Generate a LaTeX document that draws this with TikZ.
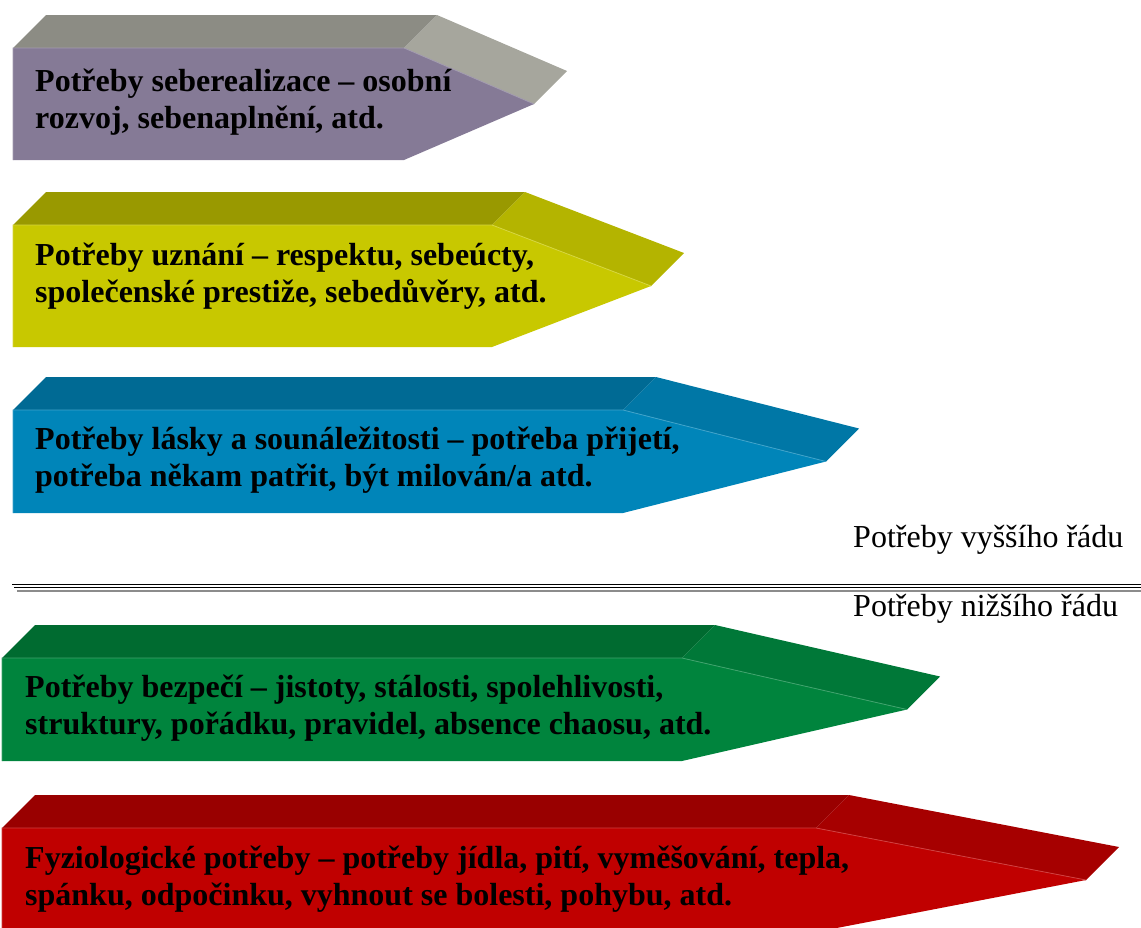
\documentclass[tikz,border=0pt]{standalone}
\usepackage{fontspec}
\setmainfont{Liberation Serif}
\usetikzlibrary{calc}

\definecolor{purpleF}{RGB}{133,122,150}
\definecolor{purpleT}{RGB}{140,140,132}
\definecolor{purpleS}{RGB}{166,166,157}
\definecolor{yellowF}{RGB}{200,200,0}
\definecolor{yellowT}{RGB}{153,153,0}
\definecolor{yellowS}{RGB}{180,180,0}
\definecolor{blueF}{RGB}{0,133,185}
\definecolor{blueT}{RGB}{0,106,148}
\definecolor{blueS}{RGB}{0,119,166}
\definecolor{greenF}{RGB}{0,132,61}
\definecolor{greenT}{RGB}{0,107,48}
\definecolor{greenS}{RGB}{0,120,56}
\definecolor{redF}{RGB}{192,0,0}
\definecolor{redT}{RGB}{153,0,0}
\definecolor{redS}{RGB}{166,0,0}

% #1 left x, #2 top y, #3 bottom y, #4 right x of the front face,
% #5 tip x, #6 colour prefix (front/top/side shades)
\newcommand\needbar[6]{%
  \pgfmathsetmacro\barmid{(#2+#3)/2}
  \fill[#6T] (#1,#2) -- (#1+33,#2-33) -- (#4+33,#2-33) -- (#4,#2) -- cycle;
  \fill[#6S] (#4,#2) -- (#4+33,#2-33) -- (#5+33,\barmid-33) -- (#5,\barmid) -- cycle;
  \fill[#6F] (#1,#2) -- (#4,#2) -- (#5,\barmid) -- (#4,#3) -- (#1,#3) -- cycle;
  \draw[#6F!75!white, line width=0.8pt] (#1,#3) -- (#1,#2) -- (#4,#2) -- (#5,\barmid);
}

\tikzset{
  needtext/.style={anchor=west, align=left, inner sep=0pt,
    font=\fontsize{32}{37}\selectfont\bfseries},
  ordertext/.style={anchor=base west, inner sep=0pt,
    font=\fontsize{32}{37}\selectfont},
}

\begin{document}
\begin{tikzpicture}[x=1pt, y=-1pt]
  \useasboundingbox (0,0) rectangle (1141,927);

  \needbar{13}{48}{160}{404}{534}{purple}
  \needbar{13}{225}{347}{492}{651}{yellow}
  \needbar{13}{410}{513}{623}{826}{blue}
  \needbar{2}{658}{761}{682}{907}{green}
  \needbar{2}{828}{932}{816}{1086}{red}

  \node[needtext] (self) at (35,102)
    {Potřeby seberealizace – osobní\\rozvoj, sebenaplnění, atd.};
  \node[needtext] (esteem) at (35,276)
    {Potřeby uznání – respektu, sebeúcty,\\společenské prestiže, sebedůvěry, atd.};
  \node[needtext] (love) at (35,460)
    {Potřeby lásky a sounáležitosti – potřeba přijetí,\\potřeba někam patřit, být milován/a atd.};
  \node[needtext] (safety) at (25,708)
    {Potřeby bezpečí – jistoty, stálosti, spolehlivosti,\\struktury, pořádku, pravidel, absence chaosu, atd.};
  \node[needtext] (physio) at (25,879)
    {Fyziologické potřeby – potřeby jídla, pití, vyměšování, tepla,\\spánku, odpočinku, vyhnout se bolesti, pohybu, atd.};

  % divider between the higher and the lower needs
  \coordinate (divA) at (12,584.5);
  \coordinate (divB) at (1141,584.5);
  \draw[black, line width=1.5pt] (divA) -- (divB);
  \draw[black, line width=1.6pt] ($(divA)+(2,3)$) -- ($(divB)+(0,3)$);
  \draw[black!45, line width=2pt] ($(divA)+(5,6)$) -- ($(divB)+(0,6)$);

  \node[ordertext] (higher) at (853,547) {Potřeby vyššího řádu};
  \node[ordertext] (lower) at (853,616) {Potřeby nižšího řádu};
\end{tikzpicture}
\end{document}
